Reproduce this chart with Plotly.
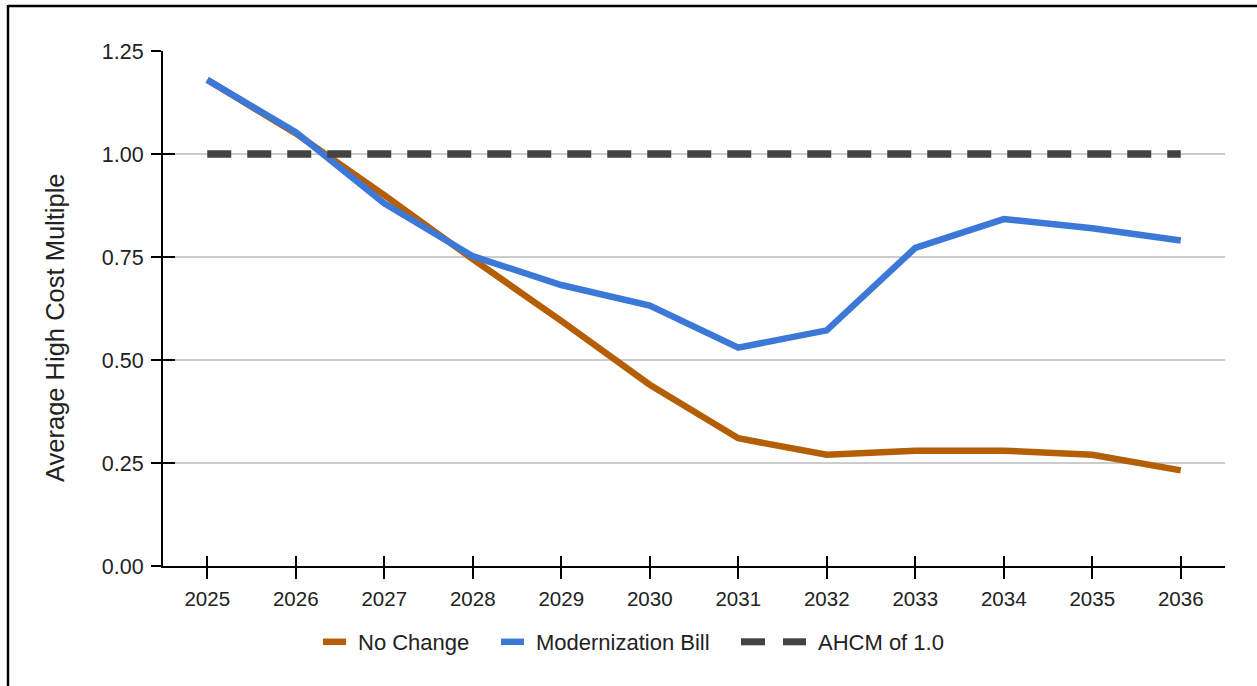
import plotly.graph_objects as go

years = ["2025", "2026", "2027", "2028", "2029", "2030", "2031", "2032", "2033", "2034", "2035", "2036"]
no_change = [1.18, 1.05, 0.90, 0.745, 0.595, 0.44, 0.31, 0.27, 0.28, 0.28, 0.27, 0.232]
modernization = [1.18, 1.053, 0.88, 0.752, 0.682, 0.632, 0.53, 0.572, 0.772, 0.842, 0.82, 0.79]
ahcm = [1.0] * len(years)
y_ticks = [0, 0.25, 0.5, 0.75, 1.0, 1.25]

ORANGE = "#b45f06"
BLUE = "#3c78d8"
DARK = "#434343"
TXT = "#222222"
FONT = "Liberation Sans, Arial, sans-serif"

W, H = 1257, 686
L, R, T, B = 163, 32, 51, 120
PW, PH = W - L - R, H - T - B


def px(x):
    return (x - L) / PW


def py(y):
    return (H - B - y) / PH


fig = go.Figure()

fig.add_trace(go.Scatter(x=years, y=no_change, mode="lines", name="No Change",
                         line=dict(color=ORANGE, width=6.5), showlegend=False))
fig.add_trace(go.Scatter(x=years, y=modernization, mode="lines", name="Modernization Bill",
                         line=dict(color=BLUE, width=6.5), showlegend=False))
fig.add_trace(go.Scatter(x=years, y=ahcm, mode="lines", name="AHCM of 1.0",
                         line=dict(color=DARK, width=7.5, dash="24px,16px"),
                         xaxis="x2", yaxis="y2", showlegend=False))

# legend entries (each in its own legend box so that spacing matches)
fig.add_trace(go.Scatter(x=[None], y=[None], mode="lines", name="No Change", legend="legend",
                         line=dict(color=ORANGE, width=6.5, dash="23px,100px")))
fig.add_trace(go.Scatter(x=[None], y=[None], mode="lines", name="Modernization Bill", legend="legend2",
                         line=dict(color=BLUE, width=6.5, dash="23px,100px")))
fig.add_trace(go.Scatter(x=[None], y=[None], mode="lines", name=" ", legend="legend3",
                         line=dict(color=DARK, width=7, dash="24px,100px")))
fig.add_trace(go.Scatter(x=[None], y=[None], mode="lines", name="AHCM of 1.0", legend="legend4",
                         line=dict(color=DARK, width=7, dash="23px,100px")))

axis_font = dict(family=FONT, size=20.5, color=TXT)
yaxis_font = dict(family=FONT, size=21.5, color=TXT)
leg_font = dict(family=FONT, size=22, color=TXT)


def leg(xpix):
    return dict(orientation="h", x=px(xpix), xanchor="left", y=py(642), yanchor="middle",
                font=leg_font, bgcolor="rgba(0,0,0,0)", borderwidth=0)


fig.update_layout(
    width=W, height=H,
    margin=dict(l=L, r=R, t=T, b=B, pad=0),
    paper_bgcolor="white", plot_bgcolor="white",
    font=dict(family=FONT, color=TXT),
    xaxis=dict(type="category", categoryarray=years, range=[-0.5, 11.5],
               showgrid=False, showline=True, linecolor="black", linewidth=2,
               ticks="outside", ticklen=11, tickwidth=2, tickcolor="black",
               tickfont=axis_font, ticklabelstandoff=2, zeroline=False),
    yaxis=dict(range=[0, 1.25], tickvals=y_ticks, tickformat=".2f",
               showgrid=True, gridcolor="#cccccc", gridwidth=1.5,
               showline=True, linecolor="black", linewidth=2,
               ticks="outside", ticklen=10, tickwidth=2, tickcolor="black",
               tickfont=yaxis_font, ticklabelstandoff=3, zeroline=False),
    xaxis2=dict(type="category", categoryarray=years, range=[-0.5, 11.5],
                overlaying="x", side="bottom", showgrid=False, showline=False,
                ticks="inside", ticklen=10, tickwidth=2, tickcolor="black",
                showticklabels=False, zeroline=False),
    yaxis2=dict(range=[0, 1.25], tickvals=y_ticks, overlaying="y", side="left",
                showgrid=False, showline=False,
                ticks="inside", ticklen=12, tickwidth=2, tickcolor="black",
                showticklabels=False, zeroline=False),
    legend=leg(318),
    legend2=leg(496),
    legend3=leg(736),
    legend4=leg(778),
    annotations=[dict(text="Average High Cost Multiple", textangle=-90,
                      xref="paper", yref="paper", x=px(55), y=py(328),
                      xanchor="center", yanchor="middle", showarrow=False,
                      font=dict(family=FONT, size=25.5, color=TXT))],
    shapes=[
        dict(type="line", xref="paper", yref="paper", x0=px(8), x1=px(1257), y0=py(6), y1=py(6),
             line=dict(color="black", width=2.5)),
        dict(type="line", xref="paper", yref="paper", x0=px(8), x1=px(8), y0=py(5), y1=py(686),
             line=dict(color="black", width=2.5)),
    ],
)

fig.write_html("out.html", config={"displayModeBar": False},
               post_script="document.body.style.margin='0px';")
